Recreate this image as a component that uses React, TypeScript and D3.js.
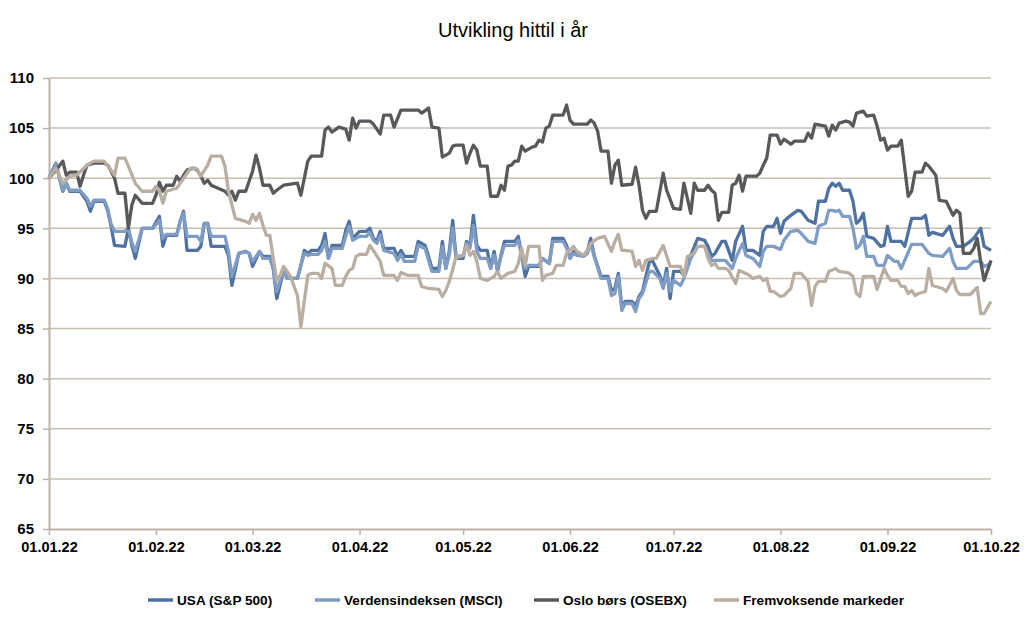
import React, { useEffect, useRef } from 'react';
import * as d3 from 'd3';

// [dager etter 01.01.22, indeks (01.01.22 = 100)]
const usa: [number, number][] = [
  [0,100],[2,101.5],[4,98.7],[5,99.5],[6,98.7],[9,98.7],[11,97.7],[12,96.7],[13,97.7],[16,97.7],[17,96.8],[18,95.2],[19,93.3],[22,93.2],[23,95],[24,93.3],[25,92],[27,95],[30,95],[32,96.2],[33,93.2],[34,94.3],[37,94.3],[38,95.7],[39,96.7],[40,92.8],[43,92.8],[44,93.2],[45,95.5],[46,95.5],[47,93.2],[51,93.2],[52,92.3],[53,89.3],[55,92.5],[57,92.7],[58,92.5],[59,91.2],[61,92.7],[62,92.2],[64,92.2],[65,91],[66,88],[68,90.8],[69,90],[72,90],[73,91.3],[74,92.8],[75,92.5],[76,92.8],[78,92.8],[79,93.3],[80,94.5],[81,92],[82,93.3],[85,93.3],[86,94.8],[87,95.7],[88,94],[90,94.7],[92,94.7],[93,95],[94,94],[95,93.7],[96,94.7],[97,93],[100,93],[101,92.2],[102,92.8],[103,92.2],[106,92.2],[107,93.7],[109,93.3],[110,92.2],[111,91],[113,91],[114,93.7],[115,91],[116,92.7],[117,95.8],[118,92],[120,92],[121,93.7],[122,93.3],[123,96.3],[124,93.3],[125,92.8],[127,92.8],[128,91],[129,92.7],[130,90.7],[131,92.3],[132,93.7],[135,93.7],[136,94.2],[137,92.3],[138,90.2],[139,91.2],[142,91.2],[143,92],[145,91.5],[146,94],[149,94],[150,93.3],[151,92],[152,92.7],[153,92.5],[155,92.3],[156,92.7],[157,94],[158,92.3],[160,90.2],[162,90.2],[163,88.8],[164,89],[165,90.5],[166,87.2],[167,87.7],[169,87.7],[170,87.3],[171,88.2],[172,88.7],[174,91.7],[175,91.7],[177,90.3],[178,89.3],[179,91],[180,88],[181,90.7],[183,90.7],[184,90.3],[186,92.3],[188,94],[190,93.8],[191,93.2],[192,92.2],[193,92.5],[195,93.7],[196,93.7],[198,91.8],[199,93.7],[201,95.2],[202,92.8],[204,92.8],[206,92.3],[207,94.7],[208,95.2],[210,95.2],[211,96],[212,94.5],[213,95.7],[215,96.3],[217,96.8],[218,96.7],[220,95.8],[222,95.5],[223,97.7],[225,97.7],[226,99],[227,99.5],[228,99.2],[229,99.5],[230,98.8],[232,98.8],[233,97.7],[234,95.5],[235,95.8],[236,96.5],[237,94.2],[239,94],[241,93.2],[242,93.3],[243,95.2],[244,93.7],[247,93.7],[248,93.2],[250,96],[253,96],[254,96.3],[255,94.3],[256,94.6],[259,94.3],[261,95.2],[262,94],[263,93.2],[265,93.2],[267,93.7],[268,94],[270,95],[271,93.2],[273,92.8],
];

const msci: [number, number][] = [
  [0,100],[2,101.5],[4,98.8],[5,99.5],[6,98.8],[9,98.8],[11,98],[12,97.2],[13,97.8],[16,97.8],[17,97],[18,95.4],[19,94.7],[22,94.7],[23,95],[24,93.6],[25,92.7],[27,95],[30,95],[32,95.8],[33,94],[34,94.4],[37,94.4],[38,95.7],[39,96.5],[40,94.2],[43,94.2],[44,93.7],[45,95.5],[46,95.5],[47,94.2],[51,94.2],[52,92.7],[53,90.2],[55,92.5],[57,92.7],[58,92.5],[59,91.7],[61,92.7],[62,92],[64,92],[65,91],[66,88.7],[68,90.8],[69,90],[72,90],[73,91.3],[74,92.5],[75,92.3],[76,92.4],[78,92.4],[79,92.8],[80,93.7],[81,92],[82,93],[85,93],[86,94.2],[87,95.2],[88,93.8],[90,94.2],[92,94.2],[93,94.6],[94,93.8],[95,93.5],[96,94.3],[97,92.8],[100,92.5],[101,91.8],[102,92.4],[103,91.7],[106,91.7],[107,93.3],[109,93],[110,91.8],[111,90.7],[113,90.7],[114,93.2],[115,91],[116,92.3],[117,95],[118,92],[120,92.3],[121,93.5],[122,93],[123,95.3],[124,92.7],[125,92],[127,92],[128,91],[129,92.3],[130,91],[131,92.2],[132,93.3],[135,93.3],[136,93.8],[137,92.2],[138,91],[139,91.3],[142,91.3],[143,92],[145,91.5],[146,93.7],[149,93.7],[150,93],[151,92],[152,92.5],[153,92.3],[155,92.2],[156,92.5],[157,93.5],[158,92.2],[160,90],[162,90],[163,88.3],[164,88.5],[165,90.2],[166,86.8],[167,87.5],[169,87.5],[170,86.7],[171,88],[172,88.5],[174,90.7],[175,90.7],[177,90],[178,89],[179,90.5],[180,88.7],[181,89.8],[183,89.3],[184,90],[186,92],[188,93.2],[190,93.2],[191,92.5],[192,91.8],[193,91.8],[196,91.8],[198,91],[199,92],[201,93.5],[202,92.3],[204,92],[206,91.2],[207,92.7],[208,93.2],[210,93.2],[212,92.9],[213,93.8],[215,94.7],[217,94.8],[218,94.5],[220,93.7],[222,93.5],[223,95.2],[225,95.5],[226,96.8],[227,96.8],[228,96.7],[229,96.8],[230,96.2],[232,96.2],[233,95],[234,93],[235,93.3],[236,94.2],[237,92.2],[239,92.2],[240,91.3],[242,91.3],[243,92.3],[245,91.7],[246,91.7],[247,91],[250,93.4],[253,93.4],[255,92.5],[256,92.3],[259,92.2],[261,93],[262,91.7],[263,91],[266,91],[268,91.7],[270,91.7],[271,91.2],[273,91.5],
];

const osebx: [number, number][] = [
  [0,100],[2,100.8],[4,101.7],[5,100.3],[6,100.6],[8,100.6],[9,99.2],[10,100.3],[11,101.3],[13,101.5],[16,101.5],[17,101.3],[18,100.7],[19,100],[20,98.5],[22,98.5],[23,95],[24,97.3],[25,98.3],[27,97.5],[30,97.5],[31,98.3],[32,99.6],[33,98.7],[34,99.3],[36,99.3],[37,100.2],[38,99.7],[39,100.3],[40,100.8],[42,101],[43,100.8],[44,100.2],[45,99.5],[46,99.8],[47,99.3],[49,99],[51,98.7],[52,98.3],[53,98.7],[54,97.8],[55,98.7],[57,98.7],[59,100.7],[60,102.3],[61,101],[62,99.3],[64,99.3],[65,98.5],[66,98.8],[68,99.3],[72,99.5],[73,98.3],[75,101.7],[76,102.2],[79,102.2],[80,104.8],[81,105.1],[82,104.6],[84,105.1],[86,104.9],[87,103.8],[88,106],[89,105],[90,105.7],[93,105.7],[94,105.4],[96,104.4],[97,106.3],[99,106.3],[100,105.1],[102,106.8],[107,106.8],[108,106.5],[110,107],[111,105.1],[113,105],[114,102.1],[116,102.5],[117,103.2],[118,103.3],[120,103.3],[121,101.5],[122,102.5],[123,103.3],[124,102.8],[125,101.2],[127,101.2],[128,98.2],[130,98.2],[131,99.3],[132,98.8],[133,101.2],[134,101.3],[135,101.7],[136,101.7],[137,103.2],[138,102.7],[140,103.1],[141,103.2],[142,103.8],[143,103.6],[144,105],[145,105.2],[146,106.3],[149,106.3],[150,107.3],[151,105.8],[152,105.4],[156,105.4],[157,105.8],[158,105.5],[159,104.7],[160,102.7],[162,102.7],[163,99.5],[164,101.3],[165,101.8],[166,99.3],[169,99.4],[170,101.1],[171,99.3],[172,96.8],[173,96],[174,96.7],[176,96.7],[178,100.5],[179,98.8],[181,97],[183,96.9],[184,99.5],[185,98],[186,96.5],[187,99.5],[188,98.8],[190,98.8],[191,99.3],[192,98.8],[193,98.5],[194,95.8],[195,96.6],[197,96.6],[198,99.3],[199,99.5],[200,100.3],[201,98.7],[202,100.2],[205,100.2],[206,100.5],[207,101.3],[208,102],[209,104.3],[211,104.3],[212,103.4],[213,103.9],[215,103.4],[216,103.7],[219,103.7],[220,104.5],[221,104],[222,105.4],[225,105.2],[226,104.2],[227,105.3],[228,104.8],[229,105.5],[231,105.7],[232,105.6],[233,105.2],[234,106.5],[236,106.7],[237,106.2],[239,106.3],[240,105.2],[241,103.8],[242,104],[243,102.8],[244,103.2],[246,103.2],[247,103.8],[248,101],[249,98.2],[250,98.7],[251,100.6],[253,100.6],[254,101.5],[255,101.2],[257,100.3],[258,97.8],[260,97.7],[262,96.3],[263,96.8],[264,96.5],[265,92.5],[267,92.5],[268,93],[269,94],[270,91.7],[271,89.8],[273,91.8],
];

const emerging: [number, number][] = [
  [0,100],[2,101],[4,99.5],[6,100.2],[8,100.3],[11,101.3],[13,101.7],[16,101.7],[18,100.8],[19,100.3],[20,102],[22,102],[23,101.2],[25,99.5],[27,98.7],[30,98.7],[31,99.2],[32,98.7],[33,97.5],[34,98.7],[37,99],[39,100],[41,101],[43,100.9],[44,100.2],[46,101.3],[47,102.2],[50,102.2],[51,101.2],[52,98.7],[54,96],[55,95.9],[57,95.7],[58,95.5],[59,96.4],[60,95.8],[61,96.5],[62,95.3],[63,94.3],[64,94.3],[65,92],[66,89.8],[67,90.3],[68,91.2],[70,90.2],[72,88.3],[73,85.2],[75,90.3],[76,90.5],[78,90.5],[79,90],[80,91.5],[82,91],[83,89.3],[85,89.3],[86,90.2],[87,90.8],[88,91],[89,92.2],[90,92.4],[92,92.4],[93,93.3],[94,92.8],[96,91.7],[97,90.3],[100,90.3],[101,89.8],[102,90.6],[104,90.3],[107,90.3],[108,89.2],[110,89],[113,88.9],[114,88.2],[115,88.8],[116,89.7],[117,90.9],[118,92.2],[120,92.3],[121,93.3],[122,92.3],[123,92.7],[124,91.7],[125,90],[127,89.8],[129,90.2],[130,90.7],[131,90],[133,90.5],[135,90.7],[136,91.5],[137,93],[138,91.3],[139,93.2],[142,93.2],[143,89.8],[144,90.3],[146,90.5],[147,91.3],[149,91.3],[150,92.5],[152,93.2],[153,92.7],[155,92.3],[156,92.8],[157,93.5],[159,94],[161,94.2],[163,92.7],[164,93.7],[165,94.4],[166,92.8],[167,92.8],[169,92.7],[170,91.2],[171,91.8],[172,90.8],[173,91.8],[175,92],[176,92],[178,93.3],[180,91.2],[183,91.2],[184,90.2],[185,92.2],[187,92.5],[188,93.2],[190,93.2],[191,92],[192,91.3],[193,91.5],[194,91],[196,91],[197,90.8],[199,89.5],[200,90.8],[202,90.5],[203,90.3],[204,90],[206,90.2],[207,89.8],[208,90],[209,88.7],[210,88.7],[212,88.2],[213,88.3],[215,89],[216,90.5],[218,90.5],[220,89.7],[221,87.3],[222,89.2],[223,89.7],[225,89.7],[226,90.7],[228,91],[229,90.7],[231,90.6],[232,90.5],[233,90.2],[234,88.5],[235,88.2],[236,90.2],[239,90.2],[240,88.9],[242,91],[243,90.3],[244,89.8],[246,89.8],[247,89.2],[248,89.2],[249,88.5],[250,88.8],[251,88.3],[252,88.5],[254,88.7],[255,91],[256,89.3],[257,89.2],[259,89],[260,88.7],[262,90],[263,88.8],[264,88.4],[267,88.4],[269,89.1],[270,86.5],[271,86.5],[273,87.7],
];

const seriesNames = ['USA (S&P 500)', 'Verdensindeksen (MSCI)', 'Oslo børs (OSEBX)', 'Fremvoksende markeder'];
const seriesData = [usa, msci, osebx, emerging];
const seriesColors = ['#4f72a0', '#7f9dc4', '#57595b', '#b9aea1'];
const yTicks = [65, 70, 75, 80, 85, 90, 95, 100, 105, 110];
const monthTicks = ['2022-01-01', '2022-02-01', '2022-03-01', '2022-04-01', '2022-05-01', '2022-06-01', '2022-07-01', '2022-08-01', '2022-09-01', '2022-10-01'];

const startDate = new Date(2022, 0, 1);
const gridColor = '#c9bfb3';
const font = '"Liberation Sans", Arial, sans-serif';

export default function App() {
  const ref = useRef<SVGSVGElement>(null);

  useEffect(() => {
    const svg = d3.select(ref.current);
    svg.selectAll('*').remove();

    const left = 49, right = 991, top = 78, bottom = 529;
    const parse = d3.timeParse('%Y-%m-%d');
    const ticks = monthTicks.map(t => parse(t) as Date);

    const x = d3.scaleTime().domain([ticks[0], ticks[ticks.length - 1]]).range([left, right]);
    const y = d3.scaleLinear().domain([65, 110]).range([bottom, top]);

    // title
    svg.append('text')
      .attr('x', 513).attr('y', 37)
      .attr('text-anchor', 'middle')
      .attr('font-family', font).attr('font-size', 20)
      .text('Utvikling hittil i år');

    // gridlines
    svg.append('g')
      .selectAll('line')
      .data(yTicks.filter(t => t > 65))
      .enter().append('line')
      .attr('x1', left).attr('x2', right)
      .attr('y1', d => y(d)).attr('y2', d => y(d))
      .attr('stroke', gridColor).attr('stroke-width', 1.5);

    // y axis
    const yAxis = svg.append('g')
      .attr('transform', `translate(${left},0)`)
      .call(d3.axisLeft(y).tickValues(yTicks).tickSize(6).tickSizeOuter(0).tickPadding(9));
    // x axis
    const xAxis = svg.append('g')
      .attr('transform', `translate(0,${bottom})`)
      .call(d3.axisBottom(x).tickValues(ticks).tickFormat(d3.timeFormat('%d.%m.%y') as any).tickSize(6).tickSizeOuter(0).tickPadding(7));

    [yAxis, xAxis].forEach(ax => {
      ax.select('.domain').attr('stroke', '#bdb2a5').attr('stroke-width', 2);
      ax.selectAll('.tick line').attr('stroke', '#bdb2a5').attr('stroke-width', 1.5);
      ax.selectAll('.tick text')
        .attr('fill', '#000')
        .attr('font-family', font)
        .attr('font-weight', 'bold');
    });
    yAxis.selectAll('.tick text').attr('font-size', 15);
    xAxis.selectAll('.tick text').attr('font-size', 14.5);

    // lines
    const line = d3.line<[number, number]>()
      .x(d => x(d3.timeDay.offset(startDate, d[0])))
      .y(d => y(d[1]));

    seriesData.forEach((s, i) => {
      svg.append('path')
        .datum(s)
        .attr('fill', 'none')
        .attr('stroke', seriesColors[i])
        .attr('stroke-width', 3.3)
        .attr('stroke-linejoin', 'round')
        .attr('d', line);
    });

    // legend
    const legendX = [148, 315, 534, 714];
    const legend = svg.append('g').attr('transform', 'translate(0,600)');
    seriesNames.forEach((name, i) => {
      legend.append('line')
        .attr('x1', legendX[i]).attr('x2', legendX[i] + 25)
        .attr('y1', 0).attr('y2', 0)
        .attr('stroke', seriesColors[i]).attr('stroke-width', 3.5);
      legend.append('text')
        .attr('x', legendX[i] + 29).attr('y', 5)
        .attr('font-family', font).attr('font-size', 13.6).attr('font-weight', 'bold')
        .text(name);
    });
  }, []);

  return (
    <svg ref={ref} width={1024} height={644}
      style={{ position: 'absolute', left: 0, top: 0, background: '#fff' }} />
  );
}
